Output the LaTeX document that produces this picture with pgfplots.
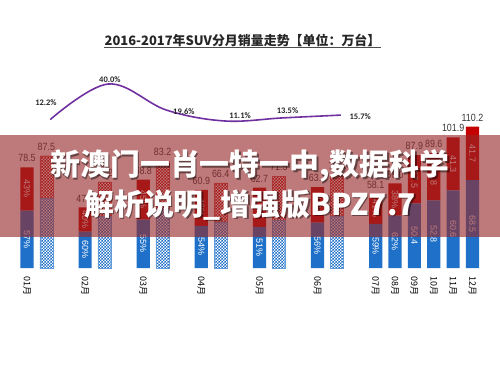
\documentclass[border=0pt]{standalone}
\usepackage{pgfplots}
\pgfplotsset{compat=1.18}
\usepackage{pgfplotstable}
\usetikzlibrary{patterns}
\usepackage{fontspec}
\setmainfont{Liberation Sans}
\newfontfamily\cjk{Noto Sans CJK SC}
\newfontfamily\carl{Carlito}
\definecolor{cblue}{RGB}{30,112,200}
\definecolor{cred}{RGB}{196,0,0}
\definecolor{cpurple}{RGB}{112,48,160}
\definecolor{banner}{RGB}{150,40,40}
\definecolor{lbl}{RGB}{55,55,55}

\pgfdeclarepatternformonly{finecheck}{\pgfpointorigin}{\pgfqpoint{3.4pt}{3.4pt}}{\pgfqpoint{3.4pt}{3.4pt}}{%
  \pgfpathrectangle{\pgfpointorigin}{\pgfqpoint{1.75pt}{1.75pt}}%
  \pgfpathrectangle{\pgfqpoint{1.7pt}{1.7pt}}{\pgfqpoint{1.75pt}{1.75pt}}%
  \pgfusepath{fill}}

% 2016 bars: blue share and red share
\pgfplotstableread{
x  b16  r16
0  44.7 33.8
3  28.3 18.9
6  37.8 31.0
9  32.9 28.0
12 32.0 30.7
15 35.3 27.8
18 34.3 23.8
19 40.9 25.1
20 50.4 37.5
21 52.8 36.8
22 60.6 41.3
23 68.5 41.7
}\barsA

% 2017 bars
\pgfplotstableread{
x  b17  r17
1  54.5 33.0
4  40.3 26.9
7  45.8 37.4
10 35.9 30.5
13 37.2 34.3
16 40.5 31.8
}\barsB

\newcommand{\vlab}[1]{\scalebox{0.85}[1]{\fontsize{10.5}{10.5}\selectfont #1}}
\tikzset{
  toplab/.style={anchor=south, inner sep=0pt, yshift=5bp, text=lbl},
  inlab/.style={rotate=-90, inner sep=0pt, text=white, font=\fontsize{9}{9}\selectfont},
  pctlab/.style={inner sep=0pt, text=black!85, font=\carl\bfseries\fontsize{8.5}{9}\selectfont},
}
\pgfplotsset{
  common/.style={
    at={(0,0)}, anchor=south west,
    scale only axis, width=500bp, height=268bp,
    xmin=-1.394, xmax=24.42, clip=false,
  },
}

\begin{document}
\begin{tikzpicture}
\path[use as bounding box] (0,-107bp) rectangle (500bp,268bp);

% 2016 bars and month ticks
\begin{axis}[
  common, ymin=0, ymax=208.9,
  ybar stacked, bar width=13.2bp,
  axis line style={draw=none}, major tick length=0pt,
  ytick=\empty,
  xtick={0,3,6,9,12,15,18,19,20,21,22,23},
  xticklabels={01月,02月,03月,04月,05月,06月,07月,08月,09月,10月,11月,12月},
  xticklabel style={rotate=-90, anchor=west, text=black, font=\cjk\fontsize{9}{9}\selectfont},
  xticklabel shift=5bp,
]
\addplot[fill=cblue, draw=none] table[x=x, y=b16] {\barsA};
\addplot[fill=cred, draw=none] table[x=x, y=r16] {\barsA};
\end{axis}

% 2017 bars (checkered)
\begin{axis}[
  common, ymin=0, ymax=208.9, hide axis,
  ybar stacked, bar width=13.2bp,
]
\addplot[pattern=finecheck, pattern color=cblue, draw=cblue!70, line width=0.4bp] table[x=x, y=b17] {\barsB};
\addplot[pattern=finecheck, pattern color=cred, draw=cred!70, line width=0.4bp] table[x=x, y=r17] {\barsB};
\end{axis}

% value labels
\begin{axis}[common, ymin=0, ymax=208.9, hide axis]
\addplot[draw=none, mark=none] coordinates {(0,0)};
\node[toplab] at (axis cs:0,78.5) {\vlab{78.5}};
\node[toplab] at (axis cs:1,87.5) {\vlab{87.5}};
\node[toplab] at (axis cs:3,47.2) {\vlab{47.2}};
\node[toplab] at (axis cs:4,67.2) {\vlab{67.2}};
\node[toplab] at (axis cs:6,68.8) {\vlab{68.8}};
\node[toplab] at (axis cs:7,83.2) {\vlab{83.2}};
\node[toplab] at (axis cs:9,60.9) {\vlab{60.9}};
\node[toplab] at (axis cs:10,66.4) {\vlab{66.4}};
\node[toplab] at (axis cs:12,62.7) {\vlab{62.7}};
\node[toplab] at (axis cs:13,71.5) {\vlab{71.5}};
\node[toplab] at (axis cs:15,63.1) {\vlab{63.1}};
\node[toplab] at (axis cs:16,72.3) {\vlab{72.3}};
\node[toplab] at (axis cs:18,58.1) {\vlab{58.1}};
\node[toplab] at (axis cs:19,66.0) {\vlab{66.0}};
\node[toplab] at (axis cs:20,87.9) {\vlab{87.9}};
\node[toplab] at (axis cs:21,89.6) {\vlab{89.6}};
\node[toplab] at (axis cs:22,101.9) {\vlab{101.9}};
\node[toplab] at (axis cs:23,110.2) {\vlab{110.2}};

\node[inlab] at (axis cs:0,22.35) {57\%};
\node[inlab] at (axis cs:0,61.6) {43\%};
\node[inlab] at (axis cs:3,14.15) {60\%};
\node[inlab] at (axis cs:3,37.75) {40\%};
\node[inlab] at (axis cs:6,18.9) {55\%};
\node[inlab] at (axis cs:6,53.3) {45\%};
\node[inlab] at (axis cs:9,16.45) {54\%};
\node[inlab] at (axis cs:9,46.9) {46\%};
\node[inlab] at (axis cs:12,16.0) {51\%};
\node[inlab] at (axis cs:12,47.35) {49\%};
\node[inlab] at (axis cs:15,17.65) {56\%};
\node[inlab] at (axis cs:15,49.2) {44\%};
\node[inlab] at (axis cs:18,17.15) {59\%};
\node[inlab] at (axis cs:18,46.2) {41\%};
\node[inlab] at (axis cs:19,20.45) {62\%};
\node[inlab] at (axis cs:19,53.45) {38\%};
\node[inlab] at (axis cs:20,25.2) {50.4};
\node[inlab] at (axis cs:20,69.15) {37.5};
\node[inlab] at (axis cs:21,26.4) {52.8};
\node[inlab] at (axis cs:21,71.2) {36.8};
\node[inlab] at (axis cs:22,30.3) {60.6};
\node[inlab] at (axis cs:22,81.25) {41.3};
\node[inlab] at (axis cs:23,34.25) {68.5};
\node[inlab] at (axis cs:23,89.35) {41.7};
\end{axis}

% growth line
\begin{axis}[common, ymin=-103.75, ymax=105.6, hide axis]
\addplot[cpurple, line width=1.6pt, smooth, tension=0.6, mark=none]
  coordinates {(1.2,12.2) (4.2,40.0) (7.2,19.6) (10.2,11.1) (13.2,13.5) (16.2,15.7)};
\node[pctlab] at (axis cs:0.98,25.5) {12.2\%};
\node[pctlab] at (axis cs:4.28,43.3) {40.0\%};
\node[pctlab] at (axis cs:8.1,18.1) {19.6\%};
\node[pctlab] at (axis cs:11.0,14.9) {11.1\%};
\node[pctlab] at (axis cs:13.45,18.9) {13.5\%};
\node[pctlab] at (axis cs:17.2,14.4) {15.7\%};
\end{axis}

% title
\node[font=\cjk\bfseries\fontsize{13}{15}\selectfont, inner sep=0pt, text=black!85] (title) at (242.5bp,228bp) {2016-2017年SUV分月销量走势【单位：万台】};
\draw[line width=0.9pt, black!70] (title.south west |- 0,221bp) -- (title.south east |- 0,221bp);

% banner
\fill[banner, opacity=0.62] (0,31bp) rectangle (500bp,133bp);
\node[font=\cjk\bfseries\fontsize{30}{32}\selectfont, text=black, opacity=0.45] at (251.5bp,100.5bp) {新澳门一肖一特一中,数据科学};
\node[font=\cjk\bfseries\fontsize{30}{32}\selectfont, text=white] at (250bp,102bp) {新澳门一肖一特一中,数据科学};
\node[font=\cjk\bfseries\fontsize{30}{32}\selectfont, text=black, opacity=0.45] at (251.5bp,61.5bp) {解析说明\_增强版BPZ7.7};
\node[font=\cjk\bfseries\fontsize{30}{32}\selectfont, text=white] at (250bp,63bp) {解析说明\_增强版BPZ7.7};
\end{tikzpicture}
\end{document}
